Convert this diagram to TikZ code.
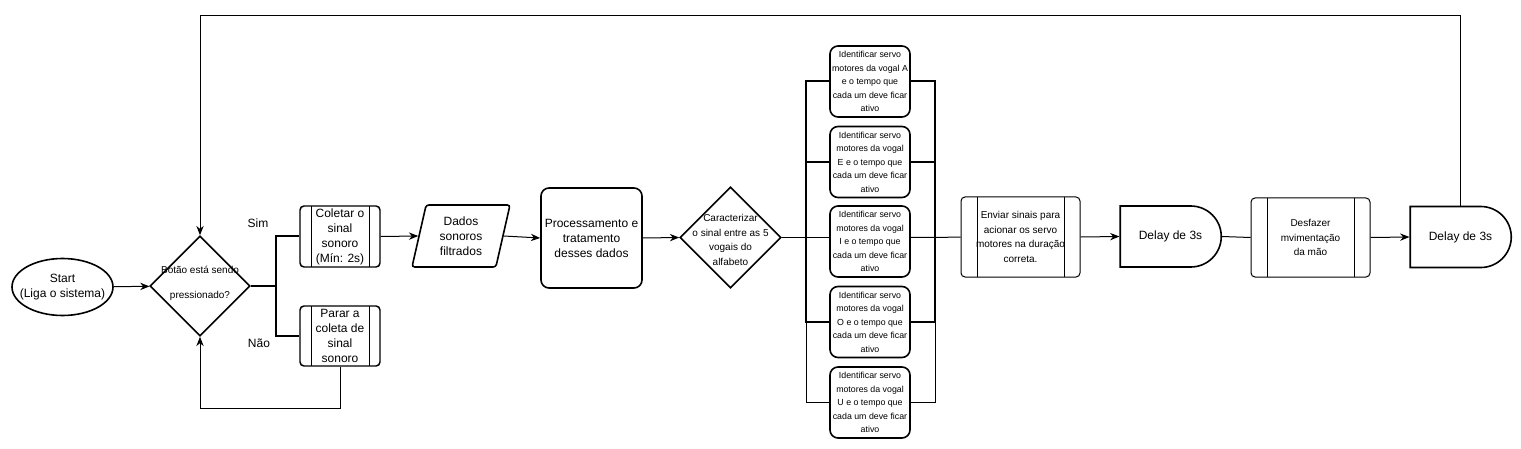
\documentclass[tikz,border=0pt]{standalone}
\usepackage{fontspec}
\setmainfont{Liberation Sans}
\usetikzlibrary{shapes.geometric,shapes.misc,arrows.meta}

\begin{document}
\begin{tikzpicture}[x=0.75pt,y=-0.75pt,line width=0.75pt]
  \tikzset{
    letra/.style={font=\fontsize{9}{11.25}\selectfont, align=center},
    letramenor/.style={font=\fontsize{7.5}{10.9}\selectfont, align=center},
    letravogal/.style={font=\fontsize{6.6}{10.1}\selectfont, align=center},
    seta/.style={-{Stealth[length=7pt,width=5.5pt]}, line width=0.75pt},
    grossa/.style={line width=1.5pt},
    inicio/.style={draw, ellipse, line width=1.2pt, minimum width=75.75pt, minimum height=42.75pt, inner xsep=-5.5pt, inner ysep=0pt, letra},
    decisao/.style={draw, diamond, line width=1.2pt, minimum width=#1, minimum height=#1, inner sep=0pt},
    subproc/.style={draw, rounded corners=3pt, inner sep=0pt,
      path picture={
        \draw[line width=0.75pt] ([xshift=#1]path picture bounding box.north west) -- ([xshift=#1]path picture bounding box.south west);
        \draw[line width=0.75pt] ([xshift=-#1]path picture bounding box.north east) -- ([xshift=-#1]path picture bounding box.south east);
      }},
    entrada/.style={draw, trapezium, trapezium left angle=70, trapezium right angle=110, trapezium stretches body,
      rounded corners=2pt, line width=1.2pt, minimum width=73.5pt, minimum height=46.5pt, inner sep=0pt, letra},
    processo/.style={draw, rounded corners=6pt, line width=1.2pt, minimum width=75.75pt, minimum height=75pt, inner sep=0pt, letra},
    vogal/.style={draw, rounded corners=6pt, line width=1.2pt, minimum width=60pt, minimum height=53.25pt, inner sep=0pt, letravogal},
    atraso/.style={draw, rounded rectangle, rounded rectangle west arc=none, line width=1.2pt,
      minimum width=75.75pt, minimum height=45.75pt, inner sep=0pt, letra}
  }
  \useasboundingbox (0,0) rectangle (1521,449);

  \node[inicio] (start) at (62.5,287) {Start\\(Liga o sistema)};
  \node[decisao=75pt] (botao) at (200,286) {};
  \node[font=\fontsize{7.5}{18.75}\selectfont, align=center] (botaotxt) at (200,283.5) {Botão está sendo\\pressionado?};
  \node[subproc=8.25pt, line width=1.1pt, minimum width=60pt, minimum height=45.75pt, letra] (coletar) at (340,236.5) {Coletar o\\sinal\\sonoro\\(Mín: 2s)};
  \node[subproc=8.25pt, line width=1.1pt, minimum width=60pt, minimum height=45pt, letra] (parar) at (340,336) {Parar a\\coleta de\\sinal\\sonoro};
  \node[letra] (sim) at (258,223) {Sim};
  \node[letra] (nao) at (259,343) {Não};
  \node[entrada] (dados) at (461,236) {Dados\\sonoros\\filtrados};
  \node[processo] (proc) at (591.5,238) {Processamento e\\tratamento\\desses dados};
  \node[decisao=75.75pt] (carac) at (730.5,237.5) {};
  \node[letramenor] (caractxt) at (730.5,240) {Caracterizar\\o sinal entre as 5\\vogais do\\alfabeto};

  \node[vogal] (vA) at (870,81.5) {Identificar servo\\motores da vogal A\\e o tempo que\\cada um deve ficar\\ativo};
  \node[vogal] (vE) at (870,162) {Identificar servo\\motores da vogal\\E e o tempo que\\cada um deve ficar\\ativo};
  \node[vogal] (vI) at (870,241.5) {Identificar servo\\motores da vogal\\I e o tempo que\\cada um deve ficar\\ativo};
  \node[vogal] (vO) at (870,322) {Identificar servo\\motores da vogal\\O e o tempo que\\cada um deve ficar\\ativo};
  \node[vogal] (vU) at (870,402.5) {Identificar servo\\motores da vogal\\U e o tempo que\\cada um deve ficar\\ativo};
  \coordinate (barraE) at (806,237.5);
  \coordinate (barraD) at (935,237.5);

  \node[subproc=12pt, line width=0.75pt, minimum width=89.25pt, minimum height=60pt, letramenor] (enviar) at (1020.5,237) {Enviar sinais para\\acionar os servo\\motores na duração\\correta.};
  \node[atraso] (delay1) at (1170.5,236.5) {Delay de 3s};
  \node[subproc=12pt, line width=0.75pt, minimum width=89.25pt, minimum height=59.25pt, letramenor] (desfazer) at (1310.5,237.5) {Desfazer\\mvimentação\\da mão};
  \node[atraso] (delay2) at (1460.5,237) {Delay de 3s};

  \draw[seta] (start) -- (botao);
  \draw[grossa] (botao.east) -- ++(25,0) coordinate (ramo);
  \draw[grossa] (coletar.west) -| (ramo) |- (parar.west);
  \draw[seta] (parar.south) |- ++(0,42) -| (botao.south);
  \draw[seta] (coletar.east) -- (dados.west);
  \draw[seta] (dados.east) -- (proc.west);
  \draw[seta] (proc.east) -- (carac.west);

  \draw (carac.east) -- (barraE) -- (barraE -| vI.west);
  \draw[grossa] (vA.west) -| (vO.west -| barraE) -- (vO.west);
  \draw[grossa] (vE.west) -- (vE.west -| barraE);
  \draw (vO.west -| barraE) |- (vU.west);
  \draw[grossa] (vA.east) -| (vO.east -| barraD) -- (vO.east);
  \draw[grossa] (vE.east) -- (vE.east -| barraD);
  \draw (vO.east -| barraD) |- (vU.east);
  \draw (barraD -| vI.east) -- (barraD) -- (enviar.west);

  \draw[seta] (enviar.east) -- (delay1.west);
  \draw (delay1.east) -- (desfazer.west);
  \draw[seta] (desfazer.east) -- (delay2.west);
  \draw[seta] (delay2.north) -- ++(0,-190) -| (botao.north);
\end{tikzpicture}
\end{document}
